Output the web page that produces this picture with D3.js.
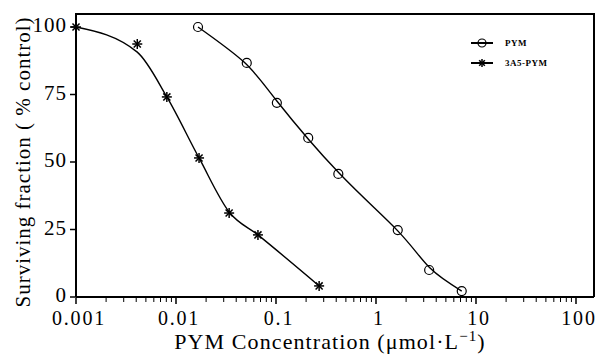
<!DOCTYPE html>
<html><head><meta charset="utf-8">
<script src="https://cdn.jsdelivr.net/npm/d3@7"></script>
<style>body{margin:0;background:#fff}svg{display:block}</style>
</head><body>
<svg id="c" width="601" height="354"></svg>
<script>
// Data
const pymConc = [0.0166, 0.051, 0.102, 0.21, 0.42, 1.65, 3.4, 7.2];
const pymVal  = [100, 86.7, 71.9, 58.9, 45.6, 24.8, 10, 2.2];
const a5Conc  = [0.001, 0.0041, 0.0081, 0.017, 0.034, 0.066, 0.27];
const a5Val   = [100, 93.7, 74.1, 51.5, 31.1, 23, 4.1];
// fitted curve knots
const pymFitConc = [0.0166, 0.0479, 0.102, 0.427, 1.66, 3.47, 7.2];
const pymFitVal  = [100, 87.0, 72.6, 45.9, 24.4, 10.7, 2.2];
const a5FitConc  = [0.001, 0.0041, 0.0081, 0.017, 0.034, 0.066, 0.27];
const a5FitVal   = [100, 90.7, 74.1, 51.5, 31.5, 23, 4.1];
const yTicks = [0, 25, 50, 75, 100];
const xTicks = [0.001, 0.01, 0.1, 1, 10, 100];
const xTickLabels = ["0.001", "0.01", "0.1", "1", "10", "100"];
const seriesNames = ["PYM", "3A5-PYM"];

const FONT = "Times New Roman, Liberation Serif, DejaVu Serif, serif";
const svg = d3.select("#c").attr("font-family", FONT);
const L = 76, R = 594, T = 14, B = 297;
const x = d3.scaleLog().domain([0.001, 100 * Math.pow(10, 0.18)]).range([L, R]);
const y = d3.scaleLinear().domain([0, 100]).range([B, 27]);

// frame
svg.append("path").attr("d", `M${L},${B}V${T}H${R}V${B}`).attr("fill","none").attr("stroke","#000").attr("stroke-width",2);

// x axis
const minor = [];
for (let e = -3; e <= 2; e++) for (let m = 2; m <= 9; m++) { const v = m * Math.pow(10, e); if (v < x.domain()[1]) minor.push(v); }
const gx = svg.append("g").attr("transform", `translate(0,${B})`);
gx.append("line").attr("x1", L).attr("x2", R).attr("stroke", "#000").attr("stroke-width", 2.2);
gx.selectAll(".mn").data(minor).join("line").attr("x1", d => x(d)).attr("x2", d => x(d)).attr("y1", 1).attr("y2", 5).attr("stroke", "#000").attr("stroke-width", 1);
gx.selectAll(".mj").data(xTicks).join("line").attr("x1", d => x(d)).attr("x2", d => x(d)).attr("y1", 1).attr("y2", 7).attr("stroke", "#000").attr("stroke-width", 1.5);
gx.selectAll("text").data(xTicks).join("text").attr("x", d => x(d) + 3).attr("y", 28)
  .attr("text-anchor", "middle").attr("font-size", 20).attr("letter-spacing", 1.8)
  .text((d, i) => xTickLabels[i]);

// y axis
const gy = svg.append("g");
gy.selectAll("line").data(yTicks).join("line").attr("x1", L - 6).attr("x2", L).attr("y1", d => y(d)).attr("y2", d => y(d)).attr("stroke", "#000").attr("stroke-width", 1.5);
gy.selectAll("text").data(yTicks).join("text").attr("x", L - 9).attr("y", d => y(d) + 5)
  .attr("text-anchor", "end").attr("font-size", 21).attr("letter-spacing", 1)
  .text(d => d);

// titles
svg.append("text").attr("transform", "translate(30,162) rotate(-90)").attr("text-anchor", "middle")
  .attr("font-size", 21).attr("letter-spacing", 1).text("Surviving fraction ( % control)");
const xt = svg.append("text").attr("x", 330).attr("y", 349).attr("text-anchor", "middle")
  .attr("font-size", 22).attr("letter-spacing", 1.1);
xt.append("tspan").text("PYM Concentration (\u03bcmol\u00b7L");
xt.append("tspan").attr("dy", -8).attr("font-size", 15).text("\u22121");
xt.append("tspan").attr("dy", 8).text(")");

// curves
const pymLine = d3.line().x(d => x(d[0])).y(d => y(d[1])).curve(d3.curveNatural);
const a5Line = d3.line().x(d => x(d[0])).y(d => y(d[1])).curve(d3.curveMonotoneX);
svg.append("path").attr("d", pymLine(pymFitConc.map((c, i) => [c, pymFitVal[i]]))).attr("fill", "none").attr("stroke", "#000").attr("stroke-width", 1.4);
svg.append("path").attr("d", a5Line(a5FitConc.map((c, i) => [c, a5FitVal[i]]))).attr("fill", "none").attr("stroke", "#000").attr("stroke-width", 1.4);

// markers
function star(g, cx, cy, r) {
  for (let k = 0; k < 4; k++) {
    const a = k * Math.PI / 4;
    g.append("line").attr("x1", cx - r * Math.cos(a)).attr("y1", cy - r * Math.sin(a))
      .attr("x2", cx + r * Math.cos(a)).attr("y2", cy + r * Math.sin(a)).attr("stroke", "#000").attr("stroke-width", 1.5);
  }
}
svg.selectAll(".pc").data(pymConc).join("circle").attr("cx", d => x(d)).attr("cy", (d, i) => y(pymVal[i])).attr("r", 4.5)
  .attr("fill", "none").attr("stroke", "#000").attr("stroke-width", 1.2);
const sg = svg.append("g");
a5Conc.forEach((c, i) => star(sg, x(c), y(a5Val[i]), 5));

// legend
const lg = svg.append("g");
lg.append("line").attr("x1", 471).attr("x2", 493).attr("y1", 43).attr("y2", 43).attr("stroke", "#000").attr("stroke-width", 2);
lg.append("circle").attr("cx", 482).attr("cy", 43).attr("r", 4).attr("fill", "none").attr("stroke", "#000").attr("stroke-width", 1.2);
lg.append("line").attr("x1", 471).attr("x2", 493).attr("y1", 63).attr("y2", 63).attr("stroke", "#000").attr("stroke-width", 2);
star(lg, 482, 63, 4);
lg.selectAll("text").data(seriesNames).join("text").attr("x", 505).attr("y", (d, i) => 46 + i * 20)
  .attr("font-size", 9).attr("font-weight", "bold").attr("letter-spacing", 0.5).text(d => d);
</script>
</body></html>
